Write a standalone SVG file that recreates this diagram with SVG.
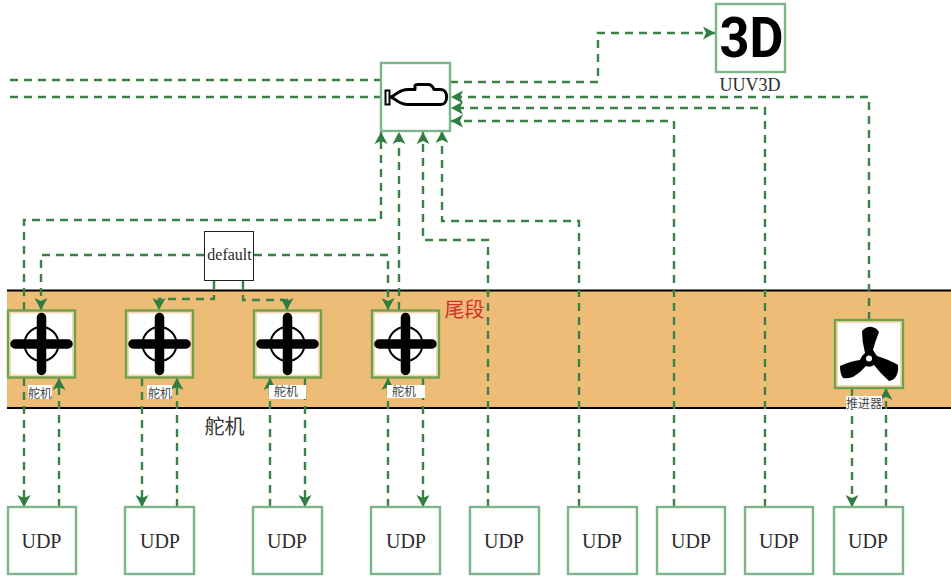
<svg xmlns="http://www.w3.org/2000/svg" xmlns:xlink="http://www.w3.org/1999/xlink" width="951" height="578" viewBox="0 0 951 578">
<style>
.c{fill:none;stroke:#3b8246;stroke-width:2.400;stroke-dasharray:8 6}
.a{marker-end:url(#ar)}
.n{fill:#fff;stroke:#7db58a;stroke-width:2.400}
.t{font-family:"Liberation Serif","Noto Sans CJK SC",serif;fill:#2b2b2b}
.u{font-size:20px;text-anchor:middle}
.s{font-size:12px;text-anchor:middle;font-family:"Noto Sans CJK SC",sans-serif;fill:#444}
.g{fill:none;stroke:#000;stroke-linecap:round}
</style>
<defs>
<marker id="ar" markerUnits="userSpaceOnUse" markerWidth="14" markerHeight="14" refX="12" refY="7" orient="auto">
<path d="M0 0.500L12 7L0 13.500L3 7Z" fill="#2f7d3f"/>
</marker>
<g id="rudder">
<rect x="1" y="1" width="67" height="67" fill="#f6d9ae" stroke="#6fa04e" stroke-width="2.400"/>
<rect x="4" y="4" width="61" height="61" fill="#fff"/>
<circle cx="34.500" cy="34.500" r="17" fill="none" stroke="#000" stroke-width="2"/>
<path class="g" stroke-width="9.500" d="M34.500 8V61M8 34.500H61"/>
</g>
</defs>
<rect id="band" x="7" y="290" width="944" height="118" fill="#edbd78"/>
<path d="M7 290.500H951M7 408H951" stroke="#000" stroke-width="2" fill="none"/>
<g id="connectors">
<path class="c" d="M10 80H381"/>
<path class="c" d="M10 97H381"/>
<path class="c a" d="M450 82H598V33H715"/>
<path class="c a" d="M869 320V97H451"/>
<path class="c a" d="M765 507V108H451"/>
<path class="c a" d="M674 507V121H451"/>
<path class="c a" d="M579 507V221H442V131"/>
<path class="c a" d="M488 507V240H423V132"/>
<path class="c a" d="M24 310V220H381V132"/>
<path class="c a" d="M399 310V132"/>
<path class="c a" d="M204 255H41V310"/>
<path class="c a" d="M254 255H388V310"/>
<path class="c a" d="M214 281V299H159V310"/>
<path class="c a" d="M243 281V300H287V310"/>
<path class="c a" d="M24 378V507"/>
<path class="c a" d="M59 507V378"/>
<path class="c a" d="M142 378V507"/>
<path class="c a" d="M177 507V378"/>
<path class="c a" d="M270 507V378"/>
<path class="c a" d="M305 378V507"/>
<path class="c a" d="M388 507V378"/>
<path class="c a" d="M423 378V507"/>
<path class="c a" d="M852 388V507"/>
<path class="c a" d="M886 507V388"/>
</g>
<g id="uuv">
<rect class="n" x="381" y="63" width="69" height="68"/>
<path d="M391 97C396 95 399 89.500 408 89.500H415V86Q415 84.500 418 84.500H428Q432 84.500 434 89.500H441C448.500 89.500 448.500 104.500 441 104.500H408C399 104.500 396 99 391 97Z" fill="#fff" stroke="#000" stroke-width="3" stroke-linejoin="round"/>
<rect x="385.500" y="90.500" width="4" height="14" fill="#fff" stroke="#000" stroke-width="2"/>
</g>
<g id="uuv3d">
<rect class="n" x="716" y="4" width="69" height="68"/>
<text x="751.500" y="57" text-anchor="middle" font-family="Roboto,Inter,sans-serif" font-weight="700" font-size="55" textLength="64" lengthAdjust="spacingAndGlyphs" fill="#000">3D</text>
<text class="t" x="750" y="91" text-anchor="middle" font-size="18">UUV3D</text>
</g>
<g id="default">
<rect x="204.500" y="231.500" width="49" height="49" fill="#fff" stroke="#222" stroke-width="1"/>
<text class="t" x="229.500" y="259.500" text-anchor="middle" font-size="16">default</text>
</g>
<g id="rudder1"><use xlink:href="#rudder" x="7" y="309.500"/><rect x="28" y="385" width="24" height="14" fill="#fff"/><text class="s" x="40" y="398">舵机</text></g>
<g id="rudder2"><use xlink:href="#rudder" x="125" y="309.500"/><rect x="147" y="385" width="25" height="14" fill="#fff"/><text class="s" x="160" y="398">舵机</text></g>
<g id="rudder3"><use xlink:href="#rudder" x="253" y="309.500"/><rect x="269" y="385" width="37" height="14" fill="#fff"/><text class="s" x="286" y="396">舵机</text></g>
<g id="rudder4"><use xlink:href="#rudder" x="371" y="309.500"/><rect x="387" y="385" width="38" height="13" fill="#fff"/><text class="s" x="404" y="396">舵机</text></g>
<g id="thruster">
<rect x="835" y="320" width="68" height="68" fill="#f6d9ae" stroke="#6fa04e" stroke-width="2.400"/>
<rect x="838" y="323" width="62" height="62" fill="#fff"/>
<path d="M862 331Q867 326 872 327Q877 328 879 332Q875 342 873 350Q875 353 877 356Q890 360 898 365Q899 373 895 378Q892 381 889 381Q880 373 874 365Q870 368 866 366Q860 373 853 377Q847 379 843 378Q840 374 840 366Q851 361 860 360Q861 356 865 353Q862 342 862 331Z" fill="#000"/>
<circle cx="869" cy="358.500" r="3" fill="#fff"/>
<rect x="846" y="396" width="36" height="13" fill="#fff"/><text class="s" x="864" y="408">推进器</text>
</g>
<text id="label-tail" x="464.500" y="317" text-anchor="middle" font-size="20" font-family="'Noto Sans CJK SC',sans-serif" fill="#d0312d">尾段</text>
<text id="label-rudder" x="224.500" y="434" text-anchor="middle" font-size="20" font-family="'Noto Sans CJK SC',sans-serif" fill="#333">舵机</text>
<g id="udp1"><rect class="n" x="8" y="507" width="68" height="67"/><text class="t u" x="41.500" y="548">UDP</text></g>
<g id="udp2"><rect class="n" x="125" y="507" width="69" height="67"/><text class="t u" x="160" y="548">UDP</text></g>
<g id="udp3"><rect class="n" x="253" y="507" width="69" height="67"/><text class="t u" x="287" y="548">UDP</text></g>
<g id="udp4"><rect class="n" x="371" y="507" width="69" height="67"/><text class="t u" x="406" y="548">UDP</text></g>
<g id="udp5"><rect class="n" x="470" y="507" width="69" height="67"/><text class="t u" x="504" y="548">UDP</text></g>
<g id="udp6"><rect class="n" x="568" y="507" width="69" height="67"/><text class="t u" x="602" y="548">UDP</text></g>
<g id="udp7"><rect class="n" x="657" y="507" width="68" height="67"/><text class="t u" x="691" y="548">UDP</text></g>
<g id="udp8"><rect class="n" x="745" y="507" width="68" height="67"/><text class="t u" x="779" y="548">UDP</text></g>
<g id="udp9"><rect class="n" x="834" y="507" width="69" height="67"/><text class="t u" x="868" y="548">UDP</text></g>
</svg>
